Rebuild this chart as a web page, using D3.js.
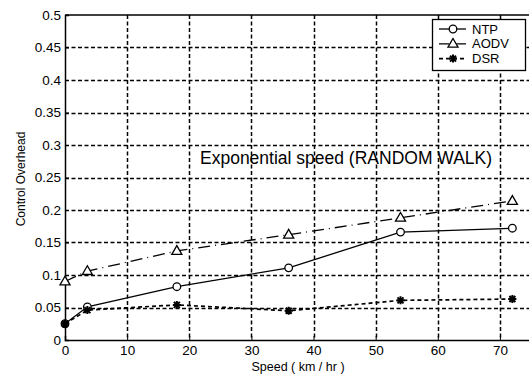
<!DOCTYPE html>
<html>
<head>
<meta charset="utf-8">
<script src="https://cdn.jsdelivr.net/npm/d3@7/dist/d3.min.js"></script>
<style>
  html, body { margin: 0; padding: 0; background: #fff; }
  svg { display: block; font-family: "Liberation Sans", Arial, Helvetica, sans-serif; }
</style>
</head>
<body>
<svg id="chart" width="529" height="376"></svg>
<script>
// Mobility speed (km/hr) and control overhead per protocol
const speeds = [0, 3.6, 18, 36, 54, 72];
const ntp  = [0.025, 0.051, 0.082, 0.111, 0.166, 0.172];
const aodv = [0.090, 0.106, 0.137, 0.162, 0.188, 0.214];
const dsr  = [0.025, 0.046, 0.054, 0.045, 0.061, 0.063];

const xTicks = [0, 10, 20, 30, 40, 50, 60, 70];
const yTicks = [0, 0.05, 0.1, 0.15, 0.2, 0.25, 0.3, 0.35, 0.4, 0.45, 0.5];
const seriesNames = ["NTP", "AODV", "DSR"];

const svg = d3.select("#chart");
const x = d3.scaleLinear().domain([0, 75]).range([65, 531]);
const y = d3.scaleLinear().domain([0, 0.5]).range([340, 15]);
const fmt = d => String(+d.toFixed(2));

// dotted grid
const gridPath = d3.path();
xTicks.filter(d => d > 0).forEach(d => {
  const px = Math.round(x(d)) + 0.5;
  gridPath.moveTo(px, y(0.5)); gridPath.lineTo(px, y(0));
});
yTicks.filter(d => d > 0 && d < 0.5).forEach(d => {
  const py = Math.round(y(d)) + 0.5;
  gridPath.moveTo(x(0), py); gridPath.lineTo(x(75), py);
});
svg.append("path").attr("d", gridPath.toString()).attr("fill", "none")
  .attr("stroke", "#000").attr("stroke-width", 1.5).attr("stroke-dasharray", "4,2.5");

// axes
const yAxis = svg.append("g").attr("transform", `translate(${x(0)},0)`)
  .call(d3.axisLeft(y).tickValues(yTicks).tickFormat(fmt).tickSize(-4).tickPadding(4));
const xAxis = svg.append("g").attr("transform", `translate(0,${y(0)})`)
  .call(d3.axisBottom(x).tickValues(xTicks).tickFormat(fmt).tickSize(-4).tickPadding(5));
[yAxis, xAxis].forEach(a => {
  a.selectAll("path.domain").attr("stroke", "#000").attr("stroke-width", 1.5);
  a.selectAll(".tick line").attr("stroke", "#000");
  a.selectAll(".tick text").attr("fill", "#000").attr("font-size", 13.5)
    .attr("font-family", "\"Liberation Sans\", Arial, sans-serif");
});
svg.append("line").attr("x1", x(0)).attr("x2", x(75)).attr("y1", y(0.5)).attr("y2", y(0.5))
  .attr("stroke", "#000").attr("stroke-width", 1.3);

// axis titles
svg.append("text").attr("x", 298).attr("y", 371).attr("text-anchor", "middle")
  .attr("font-size", 12.5).text("Speed ( km / hr )");
svg.append("text").attr("transform", "translate(25,179) rotate(-90)")
  .attr("text-anchor", "middle").attr("font-size", 12).text("Control Overhead");

// annotation
svg.append("text").attr("x", 200).attr("y", 164).attr("font-size", 17.5)
  .text("Exponential speed (RANDOM WALK)");

// markers
function circleMark(g) {
  g.append("circle").attr("r", 3.8).attr("fill", "#fff").attr("stroke", "#000").attr("stroke-width", 1.3);
}
function triMark(g) {
  g.append("path").attr("d", d3.symbol(d3.symbolTriangle, 44)())
    .attr("transform", "translate(0,0.5)")
    .attr("fill", "#fff").attr("stroke", "#000").attr("stroke-width", 1.3);
}
function starMark(g) {
  g.append("path").attr("d", "M-4,0H4M0,-4V4M-3,-3L3,3M-3,3L3,-3")
    .attr("stroke", "#000").attr("stroke-width", 2);
}

const series = [
  { name: seriesNames[0], values: ntp,  dash: null,       width: 1.3, mark: circleMark },
  { name: seriesNames[1], values: aodv, dash: "12,5,1,5", width: 1.3, mark: triMark },
  { name: seriesNames[2], values: dsr,  dash: "4,3",      width: 1.7, mark: starMark }
];

const line = d3.line().x(d => x(d[0])).y(d => y(d[1]));
series.forEach(s => {
  const pts = speeds.map((v, i) => [v, s.values[i]]);
  svg.append("path").datum(pts).attr("d", line).attr("fill", "none")
    .attr("stroke", "#000").attr("stroke-width", s.width)
    .attr("stroke-dasharray", s.dash);
  pts.forEach(p => {
    const g = svg.append("g").attr("transform", `translate(${x(p[0])},${y(p[1])})`);
    s.mark(g);
  });
});

// legend
const lg = svg.append("g");
lg.append("rect").attr("x", 432.5).attr("y", 19.5).attr("width", 93).attr("height", 51)
  .attr("fill", "#fff").attr("stroke", "#000").attr("stroke-width", 1.3);
series.forEach((s, i) => {
  const cy = 29 + i * 14.8;
  lg.append("line").attr("x1", 439).attr("x2", 466).attr("y1", cy).attr("y2", cy)
    .attr("stroke", "#000").attr("stroke-width", s.width)
    .attr("stroke-dasharray", i === 1 ? "10,3,1.5,3" : s.dash);
  const g = lg.append("g").attr("transform", `translate(453,${cy})`);
  s.mark(g);
  lg.append("text").attr("x", 472).attr("y", cy + 4.6).attr("font-size", 13).text(s.name);
});
</script>
</body>
</html>
